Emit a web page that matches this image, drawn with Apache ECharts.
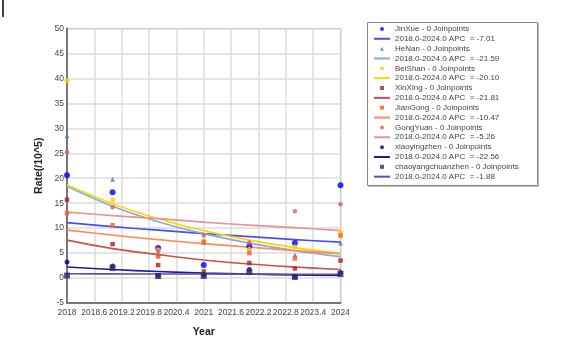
<!DOCTYPE html>
<html><head><meta charset="utf-8">
<script src="https://cdn.jsdelivr.net/npm/echarts@6/dist/echarts.min.js"></script>
<style>html,body{margin:0;padding:0;background:#fff}#c{width:573px;height:356px}</style>
</head><body><div id="c"></div>
<script>
const years = [2018, 2019, 2020, 2021, 2022, 2023, 2024];
const xTickLabels = ['2018','2018.6','2019.2','2019.8','2020.4','2021','2021.6','2022.2','2022.8','2023.4','2024'];
const yTickLabels = ['-5','0','5','10','15','20','25','30','35','40','45','50'];

const names = ['JinXue','HeNan','BeiShan','XinXing','JianGong','GongYuan','xiaoyingzhen','chaoyangchuanzhen'];
const apc = ['-7.01','-21.59','-20.10','-21.81','-10.47','-5.26','-22.56','-1.88'];

// observed rates
const JinXue       = [20.6, 17.2, 6.0, 2.6, 6.3, 7.0, 18.6];
const HeNan        = [28.5, 19.8, 4.8, 7.1, 6.0, 4.6, 7.0];
const BeiShan      = [39.6, 15.7, 5.6, 7.2, 5.7, 6.2, 9.2];
const XinXing      = [15.7, 6.8, 2.6, 1.3, 3.0, 1.9, 3.5];
const JianGong     = [13.0, 10.6, 4.3, 7.3, 5.0, 3.9, 8.5];
const GongYuan     = [25.2, 14.2, 5.3, 8.5, 7.1, 13.4, 14.8];
const xiaoyingzhen = [3.2, 2.4, 0.5, 0.6, 1.7, 0.3, 1.1];
const chaoyang     = [0.5, 2.0, 0.4, 0.4, 1.2, 0.2, 0.8];

// fitted (modeled) rates
const JinXueFit       = [11.1, 10.3, 9.6, 8.9, 8.3, 7.7, 7.2];
const HeNanFit        = [18.4, 14.4, 11.3, 8.9, 7.0, 5.5, 4.3];
const BeiShanFit      = [18.7, 14.9, 11.9, 9.5, 7.6, 6.1, 4.9];
const XinXingFit      = [7.6, 5.9, 4.7, 3.6, 2.8, 2.2, 1.7];
const JianGongFit     = [9.6, 8.6, 7.7, 6.9, 6.2, 5.5, 4.9];
const GongYuanFit     = [13.2, 12.5, 11.9, 11.2, 10.6, 10.1, 9.5];
const xiaoyingzhenFit = [2.2, 1.7, 1.3, 1.0, 0.8, 0.6, 0.5];
const chaoyangFit     = [0.85, 0.83, 0.82, 0.80, 0.79, 0.77, 0.76];

const observed = [JinXue, HeNan, BeiShan, XinXing, JianGong, GongYuan, xiaoyingzhen, chaoyang];
const fitted = [JinXueFit, HeNanFit, BeiShanFit, XinXingFit, JianGongFit, GongYuanFit, xiaoyingzhenFit, chaoyangFit];

const pointColors = ['#0000ff','#4682b4','#ffcc00','#b01c1c','#ff5a1a','#dd5a5a','#000080','#2b2b7a'];
const lineColors  = ['#4a4aff','#80aed6','#ffd400','#c85050','#ff8a5a','#e39595','#1c1c95','#5a50b0'];
const symbols     = ['circle','triangle','circle','rect','rect','circle','circle','rect'];
const symSizes    = [6, 5, 5, 4.5, 4.5, 4.5, 5, 6];
const legendIcons = {
  circle: 'circle',
  triangle: 'path://M5,0L10,10L0,10Z',
  rect: 'path://M0,0H10V10H0Z',
  line: 'path://M0,0H16V2H0Z'
};

const X0 = 2018;
const series = [];
const legendData = [];
for (let i = 0; i < names.length; i++) {
  const sName = names[i] + ' - 0 Joinpoints';
  const lName = '2018.0-2024.0 APC  = ' + apc[i];
  legendData.push({name: sName, icon: legendIcons[symbols[i]]}, {name: lName, icon: legendIcons.line});
  series.push({
    name: sName, type: 'scatter', symbol: symbols[i], symbolSize: symSizes[i], clip: false,
    itemStyle: {color: pointColors[i]},
    data: years.map((y, k) => [y - X0, observed[i][k]]), z: 5
  });
  series.push({
    name: lName, type: 'line', smooth: 0.4, symbol: 'none',
    lineStyle: {color: lineColors[i], width: 1.6}, itemStyle: {color: lineColors[i]},
    data: years.map((y, k) => [y - X0, fitted[i][k]]), z: 3
  });
}

const chart = echarts.init(document.getElementById('c'));
chart.setOption({
  animation: false,
  backgroundColor: '#ffffff',
  grid: {left: 67, right: 232.5, top: 28.5, bottom: 53, show: true, borderColor: '#999', borderWidth: 1},
  xAxis: {
    type: 'value', min: 0, max: 6, interval: 0.6,
    name: 'Year', nameLocation: 'middle', nameGap: 24,
    nameTextStyle: {fontFamily: 'Liberation Sans', fontWeight: 'bold', fontSize: 10.5, color: '#222'},
    axisLine: {show: true, onZero: false, lineStyle: {color: '#777', width: 2}},
    axisTick: {show: false},
    axisLabel: {margin: 5, fontFamily: 'Liberation Sans', fontSize: 8.5, color: '#444',
      formatter: v => xTickLabels[Math.round(v / 0.6)]},
    splitLine: {show: true, lineStyle: {color: '#dcdcdc', width: 1.5}}
  },
  yAxis: {
    type: 'value', min: -5, max: 50, interval: 5,
    name: 'Rate(/10^5)', nameLocation: 'middle', nameGap: 22, nameRotate: 90,
    nameTextStyle: {fontFamily: 'Liberation Sans', fontWeight: 'bold', fontSize: 10.5, color: '#222'},
    axisLine: {show: true, lineStyle: {color: '#777', width: 2}},
    axisTick: {show: false},
    axisLabel: {margin: 3, fontFamily: 'Liberation Sans', fontSize: 8.5, color: '#444',
      formatter: v => yTickLabels[Math.round((v + 5) / 5)]},
    splitLine: {show: true, lineStyle: {color: '#dcdcdc', width: 1.5}}
  },
  legend: {
    orient: 'vertical', left: 374, top: 24, itemGap: 0, itemWidth: 16, itemHeight: 4,
    symbolKeepAspect: true,
    padding: 0, data: legendData, selectedMode: false,
    textStyle: {fontFamily: 'Liberation Sans', fontSize: 8, color: '#444', lineHeight: 9.85}
  },
  graphic: [
    {type: 'rect', shape: {x: 367.5, y: 22.5, width: 170, height: 163}, style: {fill: 'none', stroke: '#888', lineWidth: 1}},
    {type: 'line', shape: {x1: 538.5, y1: 23, x2: 538.5, y2: 187}, style: {stroke: '#bbb', lineWidth: 1}},
    {type: 'line', shape: {x1: 368, y1: 186.5, x2: 539, y2: 186.5}, style: {stroke: '#bbb', lineWidth: 1}},
    {type: 'line', shape: {x1: 3, y1: 0, x2: 3, y2: 17}, style: {stroke: '#000', lineWidth: 1.5}}
  ],
  series: series
});
</script>
</body></html>
